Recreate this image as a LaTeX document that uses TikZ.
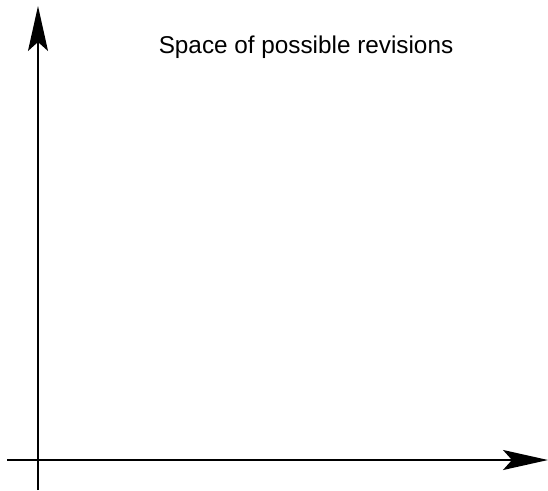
\documentclass[tikz,border=0pt]{standalone}
\usepackage{fontspec}
\setmainfont{Liberation Sans}
\usetikzlibrary{arrows.meta}
\tikzset{axis/.style={line width=2pt,-{Stealth[length=45pt,width=20pt,inset=9pt]}},
  titlelabel/.style={font=\fontsize{24.3}{28}\selectfont,inner sep=0pt}}
\begin{document}
\begin{tikzpicture}[x=1pt,y=-1pt]
\useasboundingbox (0,0) rectangle (548,490);
\coordinate (ystart) at (38,490);
\coordinate (yend) at (38,6);
\coordinate (xstart) at (7,460);
\coordinate (xend) at (548,460);
\draw[axis] (ystart) -- (yend);
\draw[axis] (xstart) -- (xend);
\node[titlelabel] (title) at (306,47) {Space of possible revisions};
\end{tikzpicture}
\end{document}
